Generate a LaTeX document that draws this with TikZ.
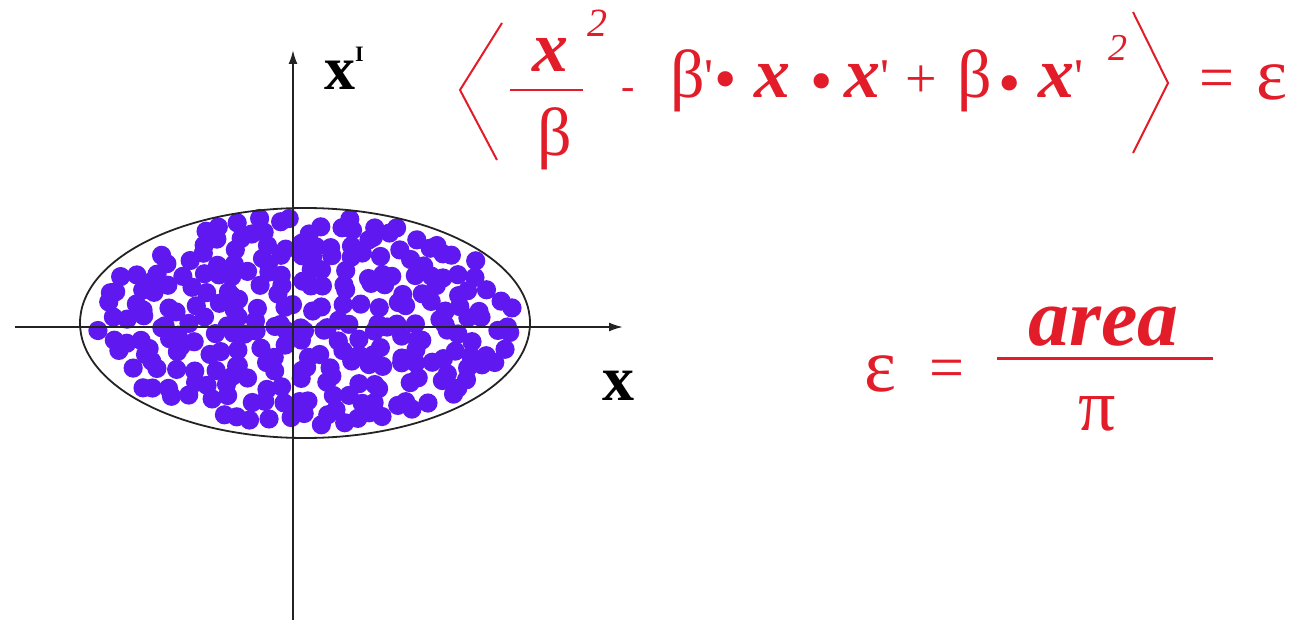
\documentclass[tikz,border=0pt]{standalone}
\usepackage{fontspec}
\setmainfont{Liberation Serif}
\usetikzlibrary{arrows.meta}
\definecolor{formred}{RGB}{226,28,40}
\definecolor{dotc}{RGB}{96,24,240}
\definecolor{axisc}{RGB}{35,35,35}
\newcommand\fsz[1]{\fontsize{#1}{#1}\selectfont}
\newcommand\tick{{\mdseries\upshape\fsz{50}\raisebox{4pt}{\textquotesingle}}}
\begin{document}
\begin{tikzpicture}[x=1pt,y=-1pt,
  rt/.style={text=formred,inner sep=0pt,anchor=base west},
  bt/.style={text=black,inner sep=0pt,anchor=base west},
  rline/.style={draw=formred,line width=2pt,line join=miter},
  axisline/.style={draw=axisc,line width=2pt,-{Latex[length=14pt,width=9pt]}}]
\useasboundingbox[fill=white] (0,0) rectangle (1316,620);
% particles (jittered grid inside the ellipse)
\pgfmathsetseed{4711}
\foreach \gy in {-7,...,7}{
  \foreach \gx in {-13,...,13}{
    \pgfmathsetmacro\px{\gx*16.5+8*mod(abs(\gy),2)+16*(rnd-0.5)}
    \pgfmathsetmacro\py{\gy*15.5+14*(rnd-0.5)}
    \pgfmathtruncatemacro\inside{((\px/210)^2+(\py/105)^2<=1)?1:0}
    \ifnum\inside=1
      \fill[dotc] ({304+\px},{321+\py}) circle[radius=9.6pt];
    \fi
  }
}
\draw[axisc,line width=1.8pt] (305,323) circle[x radius=225pt,y radius=115pt];
% axes
\coordinate (vb) at (293,620);
\coordinate (vt) at (293,50);
\coordinate (hl) at (15,327);
\coordinate (hr) at (623,327);
\draw[axisline] (vb) -- (vt);
\draw[axisline] (hl) -- (hr);
\node[bt,font=\fsz{64}\bfseries] (xlab) at (602,400) {x};
\node[bt,font=\fsz{62}\bfseries] (xplab) at (324,90) {x\raisebox{28pt}{\fsz{22}I}};
% top formula
\coordinate (lbt) at (502,23);
\coordinate (lbm) at (460,90);
\coordinate (lbb) at (497,160);
\draw[rline] (lbt) -- (lbm) -- (lbb);
\coordinate (fb1) at (510,90);
\coordinate (fb2) at (583,90);
\draw[formred,line width=2.2pt] (fb1) -- (fb2);
\node[rt,font=\fsz{72}\bfseries\itshape] (n1) at (532,72) {x};
\node[rt,font=\fsz{40}\itshape] (n2) at (587,37) {2};
\node[rt,font=\fsz{68}] (d1) at (537,156) {β};
\node[rt,font=\fsz{40}] (m1) at (621,100) {-};
\node[rt,font=\fsz{68}] (b1) at (670,98) {β\tick};
\node[rt,font=\fsz{64}] (u1) at (714,101) {•};
\node[rt,font=\fsz{72}\bfseries\itshape] (x1) at (754,98) {x};
\node[rt,font=\fsz{64}] (u2) at (810,103) {•};
\node[rt,font=\fsz{72}\bfseries\itshape] (x2) at (844,98) {x\tick};
\node[rt,font=\fsz{56}] (p1) at (905,98) {+};
\node[rt,font=\fsz{68}] (b2) at (957,98) {β};
\node[rt,font=\fsz{64}] (u3) at (998,105) {•};
\node[rt,font=\fsz{72}\bfseries\itshape] (x3) at (1038,98) {x\tick};
\node[rt,font=\fsz{38}\itshape] (s2) at (1108,61) {2};
\coordinate (rbt) at (1133,12);
\coordinate (rbm) at (1168,83);
\coordinate (rbb) at (1133,153);
\draw[rline] (rbt) -- (rbm) -- (rbb);
\node[rt,font=\fsz{62}] (eq1) at (1199,99) {=};
\node[rt,font=\fsz{74}] (e1) at (1256,100) {ε};
% emittance = area / pi
\node[rt,font=\fsz{76}] (e2) at (864,391) {ε};
\node[rt,font=\fsz{62}] (eq2) at (929,388) {=};
\coordinate (fb3) at (997,358);
\coordinate (fb4) at (1213,358);
\draw[formred,line width=3pt] (fb3) -- (fb4);
\node[rt,font=\fsz{82}\bfseries\itshape] (ar) at (1028,345) {area};
\node[text=formred,inner sep=0pt,anchor=base,font=\fsz{74}] (pi) at (1097,430) {π};
\end{tikzpicture}
\end{document}
